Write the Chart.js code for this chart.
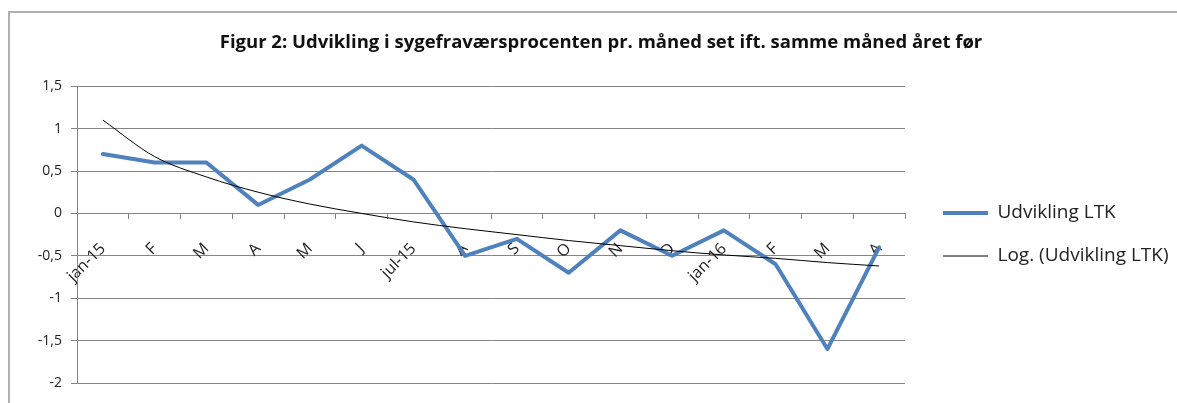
<!DOCTYPE html>
<html>
<head>
<meta charset="utf-8">
<script src="https://cdn.jsdelivr.net/npm/chart.js@4.4.1/dist/chart.umd.min.js"></script>
<style>
  html, body { margin: 0; padding: 0; background: #ffffff; }
  body { width: 1177px; height: 403px; position: relative; overflow: hidden; }
  #frame { position: absolute; left: 8px; top: 11px; width: 1200px; height: 440px;
           border-left: 2px solid #b0b0b0; border-top: 2px solid #b0b0b0; box-sizing: border-box; }
  #wrap { position: absolute; left: 0; top: 0; width: 1177px; height: 403px; }
</style>
</head>
<body>
<div id="frame"></div>
<div id="wrap"><canvas id="c" width="1177" height="403"></canvas></div>
<script>
const titleText = 'Figur 2: Udvikling i sygefraværsprocenten pr. måned set ift. samme måned året før';
const categories = ['jan-15','F','M','A','M','J','jul-15','A','S','O','N','D','jan-16','F','M','A'];
const ltkValues = [0.7, 0.6, 0.6, 0.1, 0.4, 0.8, 0.4, -0.5, -0.3, -0.7, -0.2, -0.5, -0.2, -0.6, -1.6, -0.4];
const trendValues = [1.1, 0.67, 0.43, 0.25, 0.11, 0.0, -0.1, -0.18, -0.25, -0.32, -0.38, -0.44, -0.49, -0.53, -0.58, -0.62];
const yTickValues = [-2, -1.5, -1, -0.5, 0, 0.5, 1, 1.5];
const seriesNames = ['Udvikling LTK', 'Log. (Udvikling LTK)'];

const GRID = '#858585';
const TEXT = '#222222';
const FONT = "'Open Sans', 'DejaVu Sans', sans-serif";

const LEGEND_FS = 19;
const LEGEND_PAD = 24;
const LEGEND_W = 272;
const LEGEND_LINE_X = 943;
const LEGEND_FIRST_CY = 213;

const legendPlacePlugin = {
  id: 'legendPlace',
  beforeLayout(chart) {
    const lg = chart.legend;
    if (lg && !lg._fixedW) {
      const orig = lg.fit.bind(lg);
      lg.fit = function () { orig(); this.width = LEGEND_W; };
      lg._fixedW = true;
    }
  },
  afterLayout(chart) {
    const lg = chart.legend;
    if (!lg) return;
    const colH = lg.columnSizes && lg.columnSizes[0] ? lg.columnSizes[0].height : 2 * (LEGEND_FS + LEGEND_PAD);
    const wantSum = 2 * (LEGEND_FIRST_CY - LEGEND_FS / 2) - LEGEND_PAD + colH;
    const d = (wantSum - (lg.top + lg.bottom)) / 2;
    lg.top += d; lg.bottom += d;
    const dx = (LEGEND_LINE_X - LEGEND_PAD) - lg.left;
    lg.left += dx; lg.right += dx;
  }
};

new Chart(document.getElementById('c'), {
  type: 'line',
  data: {
    labels: categories,
    datasets: [
      {
        label: seriesNames[0],
        data: ltkValues,
        borderColor: '#4F81BD',
        backgroundColor: '#4F81BD',
        borderWidth: 4,
        pointRadius: 0,
        pointHoverRadius: 0,
        borderJoinStyle: 'round',
        borderCapStyle: 'round',
        tension: 0,
        order: 2
      },
      {
        label: seriesNames[1],
        data: trendValues,
        borderColor: '#000000',
        backgroundColor: '#000000',
        borderWidth: 1,
        pointRadius: 0,
        pointHoverRadius: 0,
        cubicInterpolationMode: 'monotone',
        tension: 0.4,
        order: 1
      }
    ]
  },
  plugins: [legendPlacePlugin],
  options: {
    responsive: false,
    animation: false,
    events: [],
    layout: { padding: { left: 25, right: 0, top: 0, bottom: 20 } },
    plugins: {
      title: {
        display: true,
        text: titleText,
        color: '#111111',
        font: { family: FONT, size: 18.5, weight: 'bold', lineHeight: 1.2 },
        padding: { top: 32, bottom: 32 }
      },
      legend: {
        position: 'right',
        align: 'center',
        labels: {
          usePointStyle: true,
          pointStyleWidth: 45,
          padding: LEGEND_PAD,
          color: TEXT,
          font: { family: FONT, size: LEGEND_FS },
          generateLabels(chart) {
            return chart.data.datasets.map((ds, i) => ({
              text: ds.label,
              fillStyle: ds.borderColor,
              strokeStyle: ds.borderColor,
              lineWidth: ds.borderWidth,
              pointStyle: 'line',
              hidden: false,
              datasetIndex: i,
              fontColor: TEXT
            }));
          }
        }
      },
      tooltip: { enabled: false }
    },
    scales: {
      x: {
        type: 'category',
        position: { y: 0 },
        offset: true,
        grid: { display: true, offset: true, drawOnChartArea: false, drawTicks: true, tickLength: 5, color: GRID },
        border: { display: true, color: GRID, width: 1 },
        ticks: {
          autoSkip: false, minRotation: 45, maxRotation: 45, padding: 21,
          color: TEXT, font: { family: FONT, size: 16 }
        }
      },
      y: {
        min: yTickValues[0],
        max: yTickValues[yTickValues.length - 1],
        afterBuildTicks(scale) { scale.ticks = yTickValues.map(v => ({ value: v })); },
        afterFit(scale) { scale.width = 52; },
        grid: { color: GRID, tickLength: 6, drawTicks: true },
        border: { display: true, color: GRID, width: 1 },
        ticks: {
          padding: 9,
          color: TEXT,
          font: { family: FONT, size: 14 },
          callback: (v) => String(v).replace('.', ',')
        }
      }
    }
  }
});
</script>
</body>
</html>
